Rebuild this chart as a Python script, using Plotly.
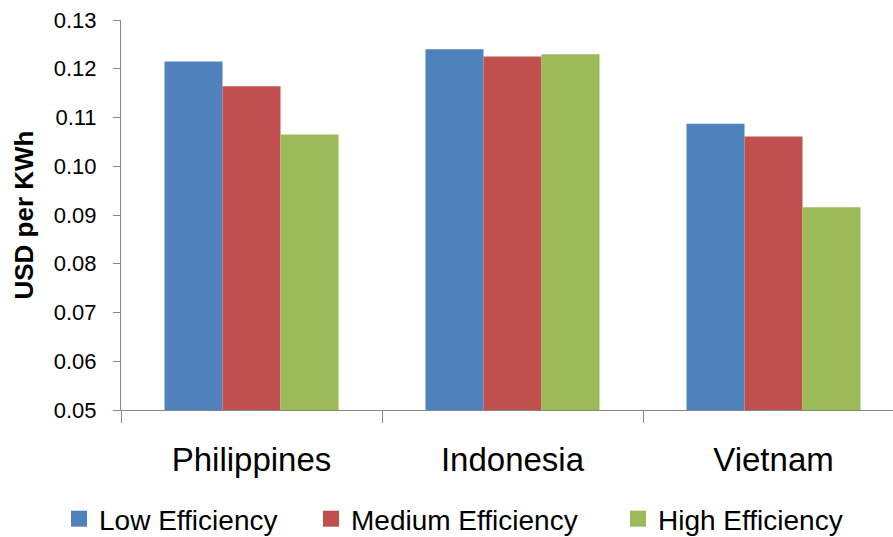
import plotly.graph_objects as go

countries = ["Philippines", "Indonesia", "Vietnam"]
series_names = ["Low Efficiency", "Medium Efficiency", "High Efficiency"]
low_eff = [0.1215, 0.1240, 0.1087]
medium_eff = [0.1164, 0.1225, 0.1061]
high_eff = [0.1065, 0.1230, 0.0916]
colors = ["#4F81BD", "#C0504D", "#9BBB59"]
y_ticks = [0.05, 0.06, 0.07, 0.08, 0.09, 0.10, 0.11, 0.12, 0.13]

FONT = "Liberation Sans, Arial, sans-serif"
W, H = 893, 537
legend_ids = ["legend", "legend2", "legend3"]
legend_left_px = [59, 311, 618]

fig = go.Figure()
for name, vals, col, lid in zip(series_names, [low_eff, medium_eff, high_eff], colors, legend_ids):
    fig.add_trace(go.Bar(x=countries, y=vals, name=name, marker_color=col,
                         marker_line_width=0, showlegend=False))
    fig.add_trace(go.Scatter(x=[None], y=[None], mode="markers", name=name,
                             marker=dict(symbol="square", size=18, color=col),
                             showlegend=True, legend=lid))

ml, mt, mb = 121, 20, 127
cat_px = 261
plot_w = W - ml

legend_common = dict(orientation="h", xanchor="left", xref="container",
                     y=18 / H, yanchor="middle", yref="container",
                     font=dict(size=28, family=FONT), itemsizing="trace",
                     bgcolor="rgba(0,0,0,0)", borderwidth=0)
fig.update_layout(
    width=W, height=H,
    margin=dict(l=ml, r=0, t=mt, b=mb),
    paper_bgcolor="white", plot_bgcolor="white",
    barmode="group", bargap=1/3, bargroupgap=0,
    font=dict(family=FONT, color="black"),
    legend=dict(x=legend_left_px[0] / W, **legend_common),
    legend2=dict(x=legend_left_px[1] / W, **legend_common),
    legend3=dict(x=legend_left_px[2] / W, **legend_common),
    xaxis=dict(type="category", range=[-0.5, -0.5 + plot_w / cat_px],
               showline=True, linecolor="#868686", linewidth=1,
               ticks="outside", tickson="boundaries", ticklen=12, tickcolor="#868686",
               tickfont=dict(size=33, family=FONT), ticklabelstandoff=20,
               showgrid=False, zeroline=False),
    yaxis=dict(range=[0.05, 0.13], tickvals=y_ticks,
               ticktext=[f"{v:.2f}" for v in y_ticks],
               showline=True, linecolor="#868686", linewidth=1,
               ticks="outside", ticklen=7, tickcolor="#868686",
               tickfont=dict(size=22, family=FONT), ticklabelstandoff=12,
               showgrid=False, zeroline=False,
               title=dict(text="<b>USD per KWh</b>", font=dict(size=26, family=FONT),
                          standoff=12)),
)
fig.write_html("out.html")
